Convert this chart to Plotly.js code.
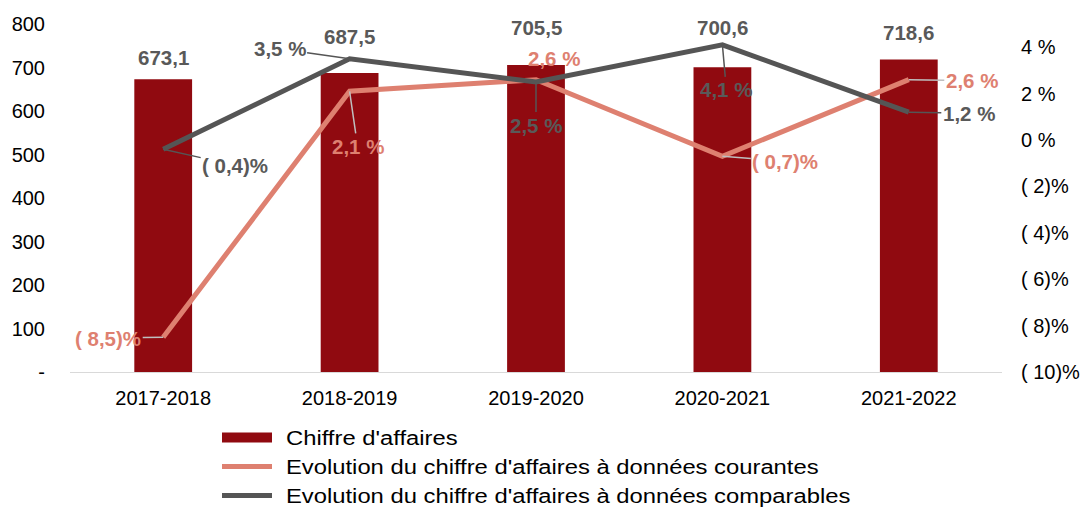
<!DOCTYPE html>
<html>
<head>
<meta charset="utf-8">
<script src="https://cdn.plot.ly/plotly-3.0.1.min.js"></script>
<style>html,body{margin:0;padding:0;background:#fff;}#chart{width:1081px;height:510px;}</style>
</head>
<body>
<div id="chart"></div>
<script>
// ---- Data ----
const categories = ["2017-2018", "2018-2019", "2019-2020", "2020-2021", "2021-2022"];
const chiffreAffaires = [673.1, 687.5, 705.5, 700.6, 718.6];
const evolCourantes = [-8.5, 2.1, 2.6, -0.7, 2.6];
const evolComparables = [-0.4, 3.5, 2.5, 4.1, 1.2];
const leftTickVals = [0, 100, 200, 300, 400, 500, 600, 700, 800];
const leftTickText = ["-", "100", "200", "300", "400", "500", "600", "700", "800"];
const rightTickVals = [-10, -8, -6, -4, -2, 0, 2, 4];
const rightTickText = ["( 10)%", "( 8)%", "( 6)%", "( 4)%", "( 2)%", "0 %", "2 %", "4 %"];
const seriesNames = ["Chiffre d'affaires",
  "Evolution du chiffre d'affaires à données courantes",
  "Evolution du chiffre d'affaires à données comparables"];

// ---- Styles ----
const FONT = "Liberation Sans, Arial, sans-serif";
const barColor = "#900A10";
const salmon = "#DE8070";
const darkGray = "#555555";
const labelGray = "#595959";
const TICK = 20, LBL = 20.5, LEG = 20, LEG_STRETCH = 1.19, LEG_TEXT_SHIFT = 9;

function fmtVal(v) { return v.toFixed(1).replace('.', ','); }
function fmtPct(v) {
  return v < 0 ? "( " + Math.abs(v).toFixed(1).replace('.', ',') + ")%" : v.toFixed(1).replace('.', ',') + " %";
}

const traces = [
  { type: 'bar', x: categories, y: chiffreAffaires, name: seriesNames[0], showlegend: false,
    marker: { color: barColor }, width: 0.31, yaxis: 'y', hoverinfo: 'skip' },
  // legend swatch for the bars (drawn as a thick line, no data)
  { type: 'scatter', mode: 'lines', x: [null], y: [null], name: seriesNames[0],
    line: { color: barColor, width: 12 }, yaxis: 'y', hoverinfo: 'skip' },
  { type: 'scatter', mode: 'lines', x: categories, y: evolCourantes, name: seriesNames[1],
    line: { color: salmon, width: 5 }, yaxis: 'y2', hoverinfo: 'skip' },
  { type: 'scatter', mode: 'lines', x: categories, y: evolComparables, name: seriesNames[2],
    line: { color: darkGray, width: 5 }, yaxis: 'y2', hoverinfo: 'skip' }
];

const annotations = [];
const barShifts = [22, 36, 38, 40, 27];
categories.forEach((c, i) => {
  annotations.push({ xref: 'x', yref: 'y', x: c, y: chiffreAffaires[i], text: fmtVal(chiffreAffaires[i]),
    showarrow: false, yanchor: 'middle', yshift: barShifts[i],
    font: { family: FONT, size: LBL, color: labelGray, weight: 'bold' } });
});
// label offsets for line labels (pixels)
const compOffsets = [[72, 16], [-70, -10], [0, 43], [4, 45], [60, 1]];
const courOffsets = [[-55, 1], [8, 55], [18, -21], [63, 5], [63, 1]];
const courLeader = [true, true, false, true, true];
categories.forEach((c, i) => {
  annotations.push({ xref: 'x', yref: 'y2', x: c, y: evolComparables[i], text: fmtPct(evolComparables[i]),
    showarrow: true, arrowhead: 0, arrowwidth: 1.5, arrowcolor: darkGray, standoff: 0,
    ax: compOffsets[i][0], ay: compOffsets[i][1],
    font: { family: FONT, size: LBL, color: labelGray, weight: 'bold' } });
  annotations.push({ xref: 'x', yref: 'y2', x: c, y: evolCourantes[i], text: fmtPct(evolCourantes[i]),
    showarrow: true, arrowhead: 0, arrowwidth: 1.5,
    arrowcolor: courLeader[i] ? '#BFBFBF' : 'rgba(0,0,0,0)', standoff: 0,
    ax: courOffsets[i][0], ay: courOffsets[i][1],
    font: { family: FONT, size: LBL, color: salmon, weight: 'bold' } });
});

const layout = {
  width: 1081, height: 510,
  margin: { l: 70, r: 79, t: 24, b: 138, autoexpand: false },
  paper_bgcolor: '#fff', plot_bgcolor: '#fff',
  font: { family: FONT, size: TICK, color: '#000' },
  showlegend: true,
  xaxis: { type: 'category', showgrid: false, zeroline: false, showline: true, linecolor: '#D9D9D9', linewidth: 1,
    ticks: '', ticklabelstandoff: 8, tickfont: { family: FONT, size: TICK, color: '#000' } },
  yaxis: { range: [0, 800], tickvals: leftTickVals, ticktext: leftTickText, showgrid: false, zeroline: false,
    showline: false, ticks: '', ticklabelstandoff: 24, tickfont: { family: FONT, size: TICK, color: '#000' } },
  yaxis2: { range: [-10, 5], overlaying: 'y', side: 'right', tickvals: rightTickVals, ticktext: rightTickText,
    showgrid: false, zeroline: false, showline: false, ticks: '', ticklabelstandoff: 18,
    tickfont: { family: FONT, size: TICK, color: '#000' } },
  legend: { orientation: 'v', xref: 'container', yref: 'container', x: 217 / 1081, y: 1 - 418 / 510,
    xanchor: 'left', yanchor: 'top',
    font: { family: FONT, size: LEG, color: '#000' }, itemwidth: 50, tracegroupgap: 0,
    bgcolor: 'rgba(0,0,0,0)' },
  annotations: annotations
};

Plotly.newPlot('chart', traces, layout, { displayModeBar: false, staticPlot: true }).then(() => {
  // let legend labels overflow the legend box, and widen them to match the reference's text
  document.querySelectorAll('#chart .legend [clip-path]').forEach(e => e.removeAttribute('clip-path'));
  document.querySelectorAll('#chart .legend .legendtext').forEach(t => {
    const x = parseFloat(t.getAttribute('x') || 0);
    t.setAttribute('transform',
      `translate(${x + LEG_TEXT_SHIFT},0) scale(${LEG_STRETCH},1) translate(${-x},0)`);
  });
});
</script>
</body>
</html>
